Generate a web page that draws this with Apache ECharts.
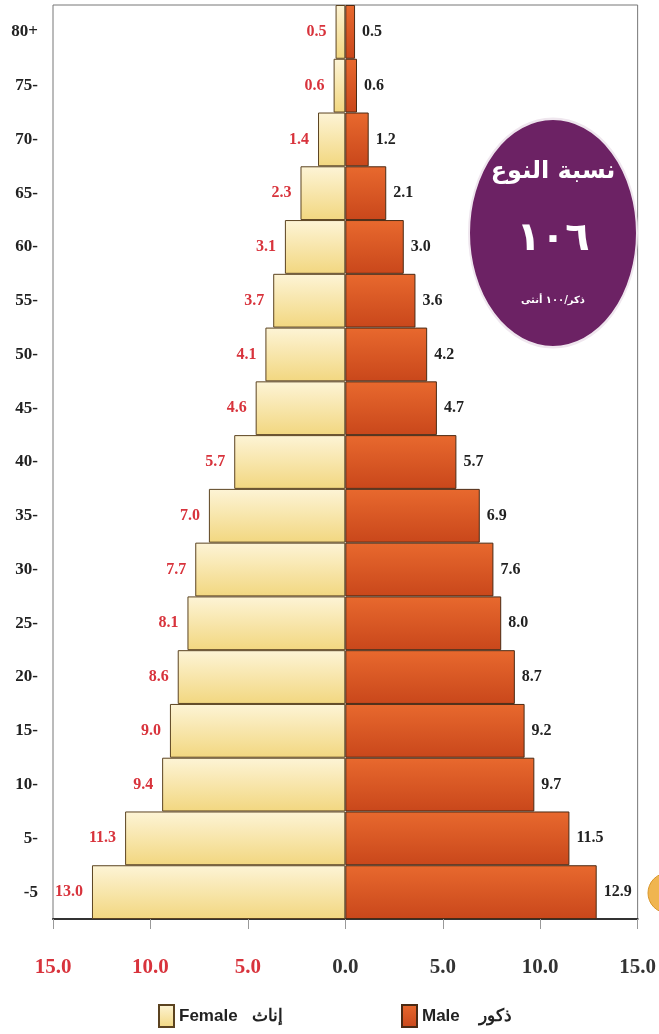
<!DOCTYPE html>
<html><head><meta charset="utf-8">
<script src="https://cdn.jsdelivr.net/npm/echarts@6/dist/echarts.min.js"></script>
<style>html,body{margin:0;padding:0;background:#fff}#c{width:659px;height:1034px}</style>
</head><body><div id="c"></div>
<script>
var ageGroups = ['-5','5-','10-','15-','20-','25-','30-','35-','40-','45-','50-','55-','60-','65-','70-','75-','80+'];
var female = [13.0,11.3,9.4,9.0,8.6,8.1,7.7,7.0,5.7,4.6,4.1,3.7,3.1,2.3,1.4,0.6,0.5];
var male = [12.9,11.5,9.7,9.2,8.7,8.0,7.6,6.9,5.7,4.7,4.2,3.6,3.0,2.1,1.2,0.6,0.5];
var xTicks = {min:-15, max:15, interval:5};

var chart = echarts.init(document.getElementById('c'), null, {renderer:'canvas'});
var serif = 'Liberation Serif';
var femaleFill = new echarts.graphic.LinearGradient(0,0,0,1,[{offset:0,color:'#fdf4d6'},{offset:1,color:'#f2d780'}]);
var maleFill = new echarts.graphic.LinearGradient(0,0,0,1,[{offset:0,color:'#e8692e'},{offset:1,color:'#c9471b'}]);

chart.setOption({
  animation:false,
  grid:{left:53,right:19,top:5,bottom:115,show:true,borderColor:'#777',borderWidth:1,backgroundColor:'#fff'},
  xAxis:{type:'value',min:xTicks.min,max:xTicks.max,interval:xTicks.interval,
    splitLine:{show:false},
    axisLine:{show:true,onZero:false,lineStyle:{color:'#333',width:2}},
    axisTick:{show:true,length:10,lineStyle:{color:'#999'}},
    axisLabel:{margin:38,fontFamily:serif,fontWeight:'bold',fontSize:21,color:'#333',
      formatter:function(v){var s=Math.abs(v).toFixed(1);return v<0?'{r|'+s+'}':s;},
      rich:{r:{color:'#d8333c',fontFamily:serif,fontWeight:'bold',fontSize:21}}}
  },
  yAxis:{type:'category',data:ageGroups,
    axisLine:{show:false},axisTick:{show:false},
    axisLabel:{margin:15,fontFamily:serif,fontWeight:'bold',fontSize:17,color:'#222'}
  },
  legend:[
    {data:['Female'],left:153,top:999,itemWidth:15,itemHeight:22,icon:'rect',itemGap:6,
      formatter:function(){return 'Female   إناث';},
      textStyle:{fontFamily:'Liberation Sans',fontWeight:'bold',fontSize:17,color:'#222'}},
    {data:['Male'],left:396,top:999,itemWidth:15,itemHeight:22,icon:'rect',
      formatter:function(){return 'Male    ذكور';},
      textStyle:{fontFamily:'Liberation Sans',fontWeight:'bold',fontSize:17,color:'#222'}}
  ],
  series:[
    {name:'Female',type:'bar',stack:'p',barCategoryGap:'0%',
      data:female.map(function(v){return -v;}),
      itemStyle:{color:femaleFill,borderColor:'#5b4320',borderWidth:1},
      label:{show:true,position:'left',distance:9,fontFamily:serif,fontWeight:'bold',fontSize:16,color:'#d8333c',
        formatter:function(p){return Math.abs(p.value).toFixed(1);}}},
    {name:'Male',type:'bar',stack:'p',barCategoryGap:'0%',
      data:male,
      itemStyle:{color:maleFill,borderColor:'#4a2a14',borderWidth:1},
      label:{show:true,position:'right',distance:7,fontFamily:serif,fontWeight:'bold',fontSize:16,color:'#222',
        formatter:function(p){return p.value.toFixed(1);}}}
  ],
  graphic:[
    {type:'circle',x:553,y:233,scaleY:1.36,shape:{cx:0,cy:0,r:84},
      style:{fill:'#6c2264',stroke:'#efe6ee',lineWidth:2},z:10},
    {type:'text',x:553,y:172,style:{text:'نسبة النوع',fill:'#fff',font:'bold 24px "DejaVu Sans"',align:'center',verticalAlign:'middle'},z:11},
    {type:'text',x:553,y:240,style:{text:'١٠٦',fill:'#fff',font:'bold 40px "DejaVu Sans"',align:'center',verticalAlign:'middle'},z:11},
    {type:'text',x:553,y:300,style:{text:'ذكر/١٠٠ أنثى',fill:'#fff',font:'bold 10px "DejaVu Sans"',align:'center',verticalAlign:'middle'},z:11},
    {type:'circle',x:668,y:893,shape:{cx:0,cy:0,r:20},style:{fill:'#f0b550',stroke:'#d9962a',lineWidth:1},z:10}
  ]
});
</script></body></html>
